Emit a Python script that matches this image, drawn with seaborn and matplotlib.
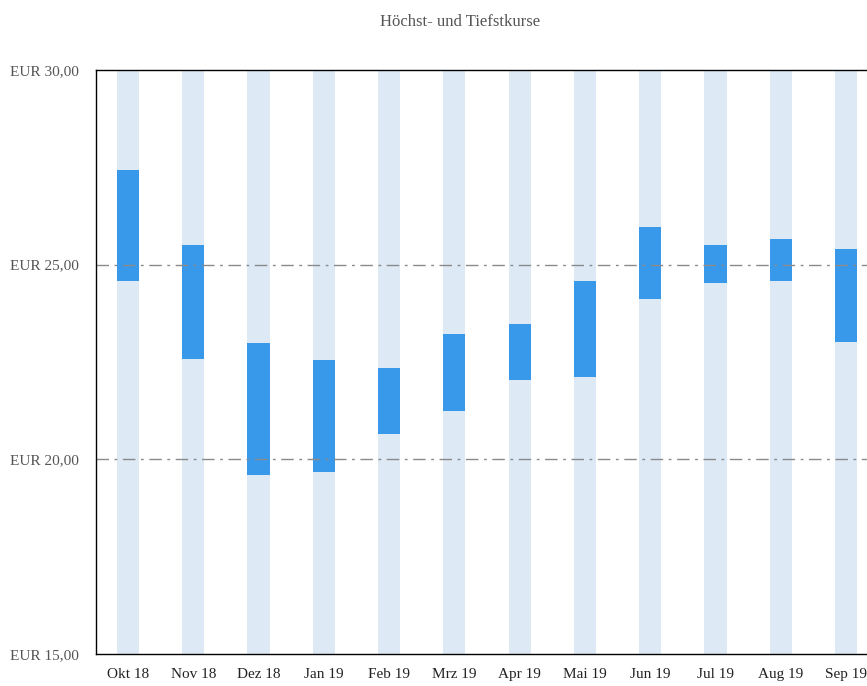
import matplotlib
matplotlib.use("Agg")
import matplotlib.pyplot as plt
import seaborn as sns
import pandas as pd

# monthly high / low prices (EUR)
months = ["Okt 18", "Nov 18", "Dez 18", "Jan 19", "Feb 19", "Mrz 19",
          "Apr 19", "Mai 19", "Jun 19", "Jul 19", "Aug 19", "Sep 19"]
highs = [27.43, 25.50, 22.99, 22.55, 22.35, 23.22, 23.48, 24.58, 25.97, 25.50, 25.66, 25.40]
lows = [24.58, 22.58, 19.60, 19.67, 20.65, 21.24, 22.04, 22.11, 24.12, 24.53, 24.58, 23.01]
y_ticks = [15, 20, 25, 30]

df = pd.DataFrame({"month": months, "high": highs, "low": lows, "top": [30] * len(months)})

sns.set_style("white")
plt.rcParams["font.family"] = ["Liberation Serif", "DejaVu Serif"]

light = "#dde9f5"
dark = "#3899ea"

fig = plt.figure(figsize=(8.67, 6.86), dpi=100)
ax = fig.add_axes([96 / 867, 1 - 654 / 686, (878 - 96) / 867, (654 - 70) / 686])

bar_kw = dict(x="month", width=0.34, saturation=1, ax=ax, linewidth=0)
sns.barplot(data=df, y="top", color=light, zorder=1, **bar_kw)
sns.barplot(data=df, y="high", color=dark, zorder=2, **bar_kw)
sns.barplot(data=df, y="low", color=light, zorder=3, **bar_kw)

ax.set_ylim(15, 30)
ax.set_xlim(-0.49, len(months) - 0.51)
ax.set_yticks(y_ticks)
ax.set_yticklabels([f"EUR {v:.2f}".replace(".", ",") for v in y_ticks], color="#555555", fontsize=11)
ax.tick_params(axis="y", length=0, pad=12)
ax.tick_params(axis="x", length=0, pad=10, labelsize=11, labelcolor="#222222")
for v in [20, 25]:
    ax.axhline(v, color="#8a8a8a", lw=1, ls=(0, (9, 4, 2, 4)), zorder=4)

for s in ax.spines.values():
    s.set_color("black")
    s.set_linewidth(1)
    s.set_zorder(5)

ax.set_xlabel("")
ax.set_ylabel("")
fig.text(460 / 867, 1 - 22 / 686, "Höchst- und Tiefstkurse", ha="center", va="center",
         fontsize=12, color="#555555")

fig.savefig("out.png", dpi=100)
